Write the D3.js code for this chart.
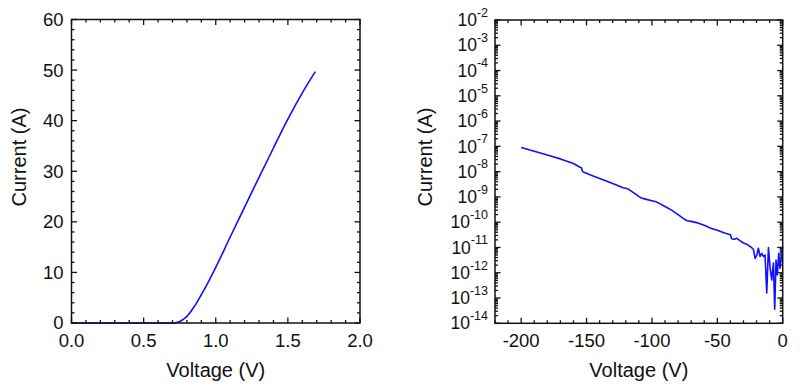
<!DOCTYPE html>
<html><head><meta charset="utf-8">
<script src="https://cdn.jsdelivr.net/npm/d3@7"></script>
<style>
body{margin:0;background:#fff;}
svg{display:block;font-family:"Liberation Sans",Arial,sans-serif;}
</style></head>
<body><svg id="c" width="800" height="386"></svg>
<script>
// Left panel: forward I-V (linear)
const fwdVoltage = [0,0.1,0.2,0.3,0.4,0.5,0.6,0.7,0.72,0.75,0.78,0.8,0.85,0.9,0.95,1.0,1.1,1.2,1.3,1.4,1.5,1.6,1.69];
const fwdCurrent = [0,0,0,0,0,0,0,0,0.05,0.3,0.8,1.3,3.2,5.6,8.2,11,17.0,22.9,28.8,34.6,40.3,45.5,49.7];
const leftXTicks = [0,0.5,1.0,1.5,2.0];
const leftYTicks = [0,10,20,30,40,50,60];

// Right panel: reverse I-V (log)
const revVoltage = [-200,-190,-180,-170,-160,-155,-154,-153,-152,-145,-140,-130,-122,-120,-119,-118,-110,-108,-105,-100,-97,-95,-90,-85,-80,-75,-73,-70,-65,-60,-55,-50,-45,-40,-39,-37,-35,-33,-30,-27,-24,-22.4,-21.1,-19.8,-18.6,-17.3,-16.0,-14.8,-13.5,-12.2,-10.9,-9.7,-8.4,-7.1,-6.1,-5.1,-4.1,-3.0,-2.1,-1.1,0];
const revCurrent = [9.1e-8,6.4e-8,4.6e-8,3.2e-8,2.1e-8,1.5e-8,1.45e-8,1.0e-8,9.4e-9,6.8e-9,5.4e-9,3.4e-9,2.3e-9,2.2e-9,2.1e-9,2.05e-9,1.05e-9,9e-10,8.2e-10,7e-10,6.4e-10,5.8e-10,4.2e-10,3.0e-10,2.0e-10,1.3e-10,1.15e-10,1.08e-10,9.4e-11,7.5e-11,5.8e-11,4.8e-11,3.8e-11,3.2e-11,2.2e-11,2.1e-11,2.3e-11,1.9e-11,1.5e-11,1.3e-11,1.0e-11,8.5e-12,3.7e-12,5e-12,9.3e-12,4.4e-12,5.9e-12,4.4e-12,5e-12,1.6e-13,1.0e-11,1.7e-12,5.2e-13,2.4e-12,3.6e-14,3.2e-12,8.2e-13,5.9e-12,1.5e-12,3.9e-12,1.1e-11];
const rightXTicks = [-200,-150,-100,-50,0];
const rightYExps = [-14,-13,-12,-11,-10,-9,-8,-7,-6,-5,-4,-3,-2];

const svg = d3.select("#c");
const ink = "#111";
const fs = 18.5;
const fsTitle = 20;

function frame(g, x0, x1, y0, y1){
  g.append("rect").attr("x",x0).attr("y",y0).attr("width",x1-x0).attr("height",y1-y0)
   .attr("fill","none").attr("stroke",ink).attr("stroke-width",1.5);
}
function ticksX(g, xs, vals, len, y0, y1){
  vals.forEach(v=>{
    const x = xs(v);
    g.append("line").attr("x1",x).attr("x2",x).attr("y1",y1).attr("y2",y1-len).attr("stroke",ink).attr("stroke-width",1.3);
    g.append("line").attr("x1",x).attr("x2",x).attr("y1",y0).attr("y2",y0+len).attr("stroke",ink).attr("stroke-width",1.3);
  });
}
function ticksY(g, ys, vals, len, x0, x1){
  vals.forEach(v=>{
    const y = ys(v);
    g.append("line").attr("x1",x0).attr("x2",x0+len).attr("y1",y).attr("y2",y).attr("stroke",ink).attr("stroke-width",1.3);
    g.append("line").attr("x1",x1).attr("x2",x1-len).attr("y1",y).attr("y2",y).attr("stroke",ink).attr("stroke-width",1.3);
  });
}

// ---------- Left panel ----------
{
  const L = {x0:71.5, x1:360, y0:19.5, y1:323};
  const x = d3.scaleLinear().domain([0,2]).range([L.x0,L.x1]);
  const y = d3.scaleLinear().domain([0,60]).range([L.y1,L.y0]);
  const g = svg.append("g");
  const minorX = d3.range(0,2.0001,0.1).filter(v=>Math.abs(v*2-Math.round(v*2))>1e-6);
  const minorY = d3.range(0,60.001,2).filter(v=>v%10!==0);
  ticksX(g,x,minorX,3,L.y0,L.y1);
  ticksX(g,x,leftXTicks,5.5,L.y0,L.y1);
  ticksY(g,y,minorY,3,L.x0,L.x1);
  ticksY(g,y,leftYTicks,5.5,L.x0,L.x1);
  g.append("path").datum(fwdVoltage.map((v,i)=>[v,fwdCurrent[i]]))
   .attr("fill","none").attr("stroke","#1010ff").attr("stroke-width",1.6)
   .attr("d", d3.line().x(d=>x(d[0])).y(d=>y(d[1])).curve(d3.curveMonotoneX));
  frame(g,L.x0,L.x1,L.y0,L.y1);
  leftXTicks.forEach(v=>g.append("text").attr("x",x(v)).attr("y",347).attr("text-anchor","middle")
    .attr("font-size",fs).attr("fill",ink).text(d3.format(".1f")(v)));
  leftYTicks.forEach(v=>g.append("text").attr("x",63.5).attr("y",y(v)).attr("dy","0.35em").attr("text-anchor","end")
    .attr("font-size",fs).attr("fill",ink).text(v));
  g.append("text").attr("x",(L.x0+L.x1)/2).attr("y",377).attr("text-anchor","middle")
    .attr("font-size",fsTitle).attr("fill",ink).text("Voltage (V)");
  g.append("text").attr("transform","translate(26,157) rotate(-90)").attr("text-anchor","middle")
    .attr("font-size",fsTitle).attr("fill",ink).text("Current (A)");
}

// ---------- Right panel ----------
{
  const R = {x0:495, x1:782.7, y0:20, y1:323.3};
  const x = d3.scaleLinear().domain([-220,0]).range([R.x0,R.x1]);
  const y = d3.scaleLog().domain([1e-14,1e-2]).range([R.y1,R.y0]);
  const g = svg.append("g");
  const minorX = d3.range(-220,0.001,10).filter(v=>v%50!==0);
  const minorY = [];
  rightYExps.slice(0,-1).forEach(e=>{ for(let k=2;k<=9;k++) minorY.push(k*Math.pow(10,e)); });
  ticksX(g,x,minorX,3,R.y0,R.y1);
  ticksX(g,x,rightXTicks,5.5,R.y0,R.y1);
  ticksY(g,y,minorY,3,R.x0,R.x1);
  ticksY(g,y,rightYExps.map(e=>Math.pow(10,e)),5.5,R.x0,R.x1);
  g.append("path").datum(revVoltage.map((v,i)=>[v,revCurrent[i]]))
   .attr("fill","none").attr("stroke","#1010ff").attr("stroke-width",1.6).attr("stroke-linejoin","round")
   .attr("d", d3.line().x(d=>x(d[0])).y(d=>y(d[1])));
  frame(g,R.x0,R.x1,R.y0,R.y1);
  rightXTicks.forEach(v=>g.append("text").attr("x",x(v)).attr("y",347).attr("text-anchor","middle")
    .attr("font-size",fs).attr("fill",ink).text(v));
  rightYExps.forEach(e=>{
    const t = g.append("text").attr("x",488).attr("y",y(Math.pow(10,e))).attr("dy","0.35em").attr("text-anchor","end")
      .attr("font-size",17.5).attr("fill",ink);
    t.append("tspan").text("10");
    t.append("tspan").attr("font-size",12.5).attr("dy","-0.75em").text(e===0?"0":"-"+Math.abs(e));
  });
  g.append("text").attr("x",(R.x0+R.x1)/2).attr("y",377).attr("text-anchor","middle")
    .attr("font-size",fsTitle).attr("fill",ink).text("Voltage (V)");
  g.append("text").attr("transform","translate(432,157) rotate(-90)").attr("text-anchor","middle")
    .attr("font-size",fsTitle).attr("fill",ink).text("Current (A)");
}
</script></body></html>
